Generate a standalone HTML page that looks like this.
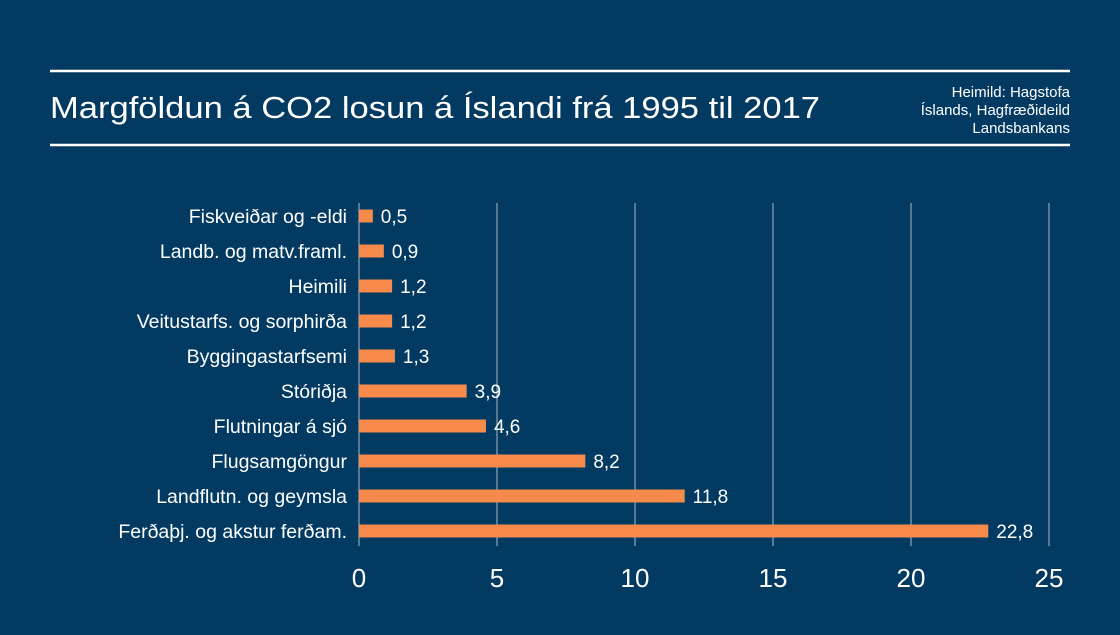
<!DOCTYPE html>
<html><head><meta charset="utf-8">
<style>
html,body{margin:0;padding:0;background:#033a62;}
body{width:1120px;height:630px;overflow:hidden;font-family:"Liberation Sans","DejaVu Sans",sans-serif;}
</style></head>
<body>
<svg width="1120" height="630" xmlns="http://www.w3.org/2000/svg">
<rect width="1120" height="630" fill="#033a62"/>
<line x1="50" y1="71" x2="1070" y2="71" stroke="#fff" stroke-width="2.5"/>
<line x1="50" y1="145" x2="1070" y2="145" stroke="#fff" stroke-width="2.5"/>
<text x="50" y="118" fill="#fff" font-size="31" textLength="770" lengthAdjust="spacingAndGlyphs" font-family="Liberation Sans, sans-serif">Margföldun á CO2 losun á Íslandi frá 1995 til 2017</text>
<g fill="#fff" font-size="15" text-anchor="end" font-family="Liberation Sans, sans-serif">
<text x="1070" y="97">Heimild: Hagstofa</text>
<text x="1070" y="115">Íslands, Hagfræðideild</text>
<text x="1070" y="133">Landsbankans</text>
</g>
<g id="grid"></g><g id="bars"></g><g id="labels"></g>
</svg>
<script>
const categories=["Fiskveiðar og -eldi","Landb. og matv.framl.","Heimili","Veitustarfs. og sorphirða","Byggingastarfsemi","Stóriðja","Flutningar á sjó","Flugsamgöngur","Landflutn. og geymsla","Ferðaþj. og akstur ferðam."];
const values=[0.5,0.9,1.2,1.2,1.3,3.9,4.6,8.2,11.8,22.8];
const ticks=[0,5,10,15,20,25];
const NS="http://www.w3.org/2000/svg";
const x=v=>359+v*27.6;
const y=i=>216+i*35;
function mk(t,a,p){const e=document.createElementNS(NS,t);for(const k in a)e.setAttribute(k,a[k]);p.appendChild(e);return e;}
const g=document.getElementById('grid'),b=document.getElementById('bars'),l=document.getElementById('labels');
ticks.forEach(t=>{
  if(t>0){const ln=mk('line',{x1:x(t),x2:x(t),y1:203,y2:546,stroke:'#8fa3b8','stroke-width':1.2},g);
  
  }
  const tx=mk('text',{x:x(t),y:587,fill:'#fff','font-size':26,'text-anchor':'middle'},g);tx.textContent=t;
  
  
});
const ax=mk('line',{x1:359,x2:359,y1:203,y2:546,stroke:'#8fa3b8','stroke-width':1.2},g);


categories.forEach((c,i)=>{
  const r=mk('rect',{x:x(0),y:y(i)-6.5,width:x(values[i])-x(0),height:13,fill:'#f68b4b'},b);
  
  
  const cl=mk('text',{x:347,y:y(i)+7,fill:'#fff','font-size':19.5,'text-anchor':'end'},l);cl.textContent=c;
  
  
  const vl=mk('text',{x:x(values[i])+8,y:y(i)+7,fill:'#fff','font-size':19},l);vl.textContent=String(values[i]).replace('.',',');
  
  
});
</script>
</body></html>
